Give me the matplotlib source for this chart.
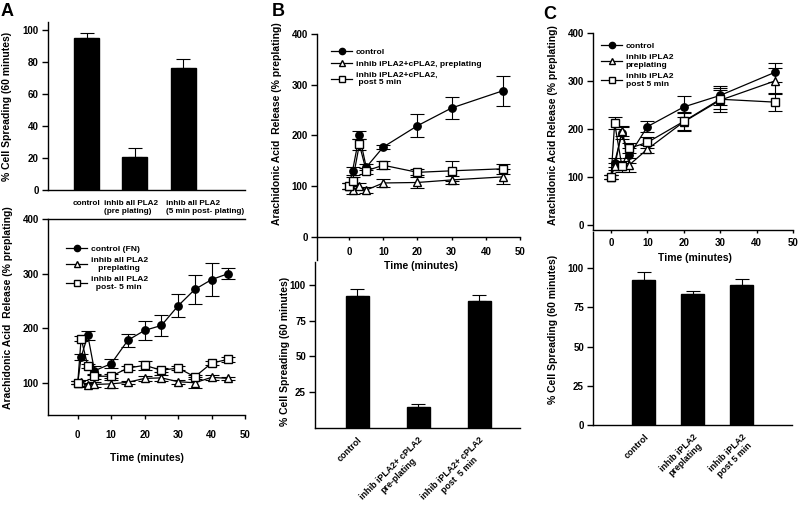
import matplotlib
matplotlib.use("Agg")
import matplotlib.pyplot as plt
import numpy as np

plt.rcParams['font.family'] = ['Liberation Sans', 'DejaVu Sans']
plt.rcParams['font.weight'] = 'bold'
plt.rcParams['axes.linewidth'] = 1.0

# ---------------- data ----------------
# Panel A, bar chart
a_bar_labels = ["control", "inhib all PLA2\n(pre plating)", "inhib all PLA2\n(5 min post- plating)"]
a_bar_vals = [95, 20.5, 76.5]
a_bar_err = [3, 5.5, 5.5]

# Panel A, time course
a_time = [0, 1, 3, 5, 10, 15, 20, 25, 30, 35, 40, 45]
a_ctrl = [100, 147, 187, 122, 135, 178, 196, 205, 241, 271, 289, 300]
a_ctrl_err = [3, 5, 8, 8, 8, 12, 17, 19, 21, 27, 30, 10]
a_pre = [100, 102, 96, 97, 98, 101, 108, 109, 102, 100, 110, 108]
a_pre_err = [3, 3, 4, 4, 8, 3, 4, 6, 4, 10, 4, 3]
a_post = [100, 181, 131, 112, 112, 127, 132, 123, 127, 111, 136, 143]
a_post_err = [3, 4, 4, 5, 4, 4, 8, 4, 3, 4, 3, 5]
a_leg = ["control (FN)", "inhib all PLA2\n   preplating", "inhib all PLA2\n  post- 5 min"]

# Panel B, time course
b_time = [0, 1, 3, 5, 10, 20, 30, 45]
b_ctrl = [100, 130, 200, 137, 177, 219, 254, 288]
b_ctrl_err = [5, 8, 8, 6, 4, 23, 22, 30]
b_pre = [100, 92, 100, 92, 106, 107, 112, 118]
b_pre_err = [5, 8, 5, 6, 8, 10, 8, 15]
b_post = [100, 110, 182, 130, 141, 127, 130, 134]
b_post_err = [5, 8, 10, 6, 8, 6, 20, 10]
b_leg = ["control", "inhib iPLA2+cPLA2, preplating", "inhib iPLA2+cPLA2,\n post 5 min"]

# Panel B, bar chart
b_bar_labels = ["control", "inhib iPLA2+ cPLA2\npre-plating", "inhib iPLA2+ cPLA2\npost  5 min"]
b_bar_vals = [92, 15, 88.5]
b_bar_err = [5, 2, 4.5]

# Panel C, time course
c_time = [0, 1, 3, 5, 10, 20, 30, 45]
c_ctrl = [100, 130, 192, 145, 205, 246, 270, 318]
c_ctrl_err = [5, 10, 12, 15, 12, 22, 20, 20]
c_pre = [100, 122, 196, 125, 158, 215, 260, 300]
c_pre_err = [5, 8, 10, 15, 8, 20, 25, 28]
c_post = [100, 212, 122, 160, 172, 216, 262, 256]
c_post_err = [5, 12, 12, 10, 12, 18, 20, 18]
c_leg = ["control", "inhib iPLA2\npreplating", "inhib iPLA2\npost 5 min"]

# Panel C, bar chart
c_bar_labels = ["control", "inhib iPLA2\npreplating", "inhib iPLA2\npost 5 min"]
c_bar_vals = [92.5, 83.5, 89.5]
c_bar_err = [4.7, 1.8, 3.8]

# ---------------- figure ----------------
W, H = 800, 507
fig = plt.figure(figsize=(W / 100, H / 100), dpi=100)


def rect(left, top, right, bottom):
    return [left / W, 1 - bottom / H, (right - left) / W, (bottom - top) / H]


TICK_FS = 7
LAB_FS = 7.5
LEG_FS = 6.1


def style(ax):
    ax.patch.set_alpha(0)
    ax.spines['right'].set_visible(False)
    ax.spines['top'].set_visible(False)
    ax.tick_params(axis='both', labelsize=TICK_FS, width=1.0, length=4.5, pad=2, colors='black')
    for lab in ax.get_xticklabels() + ax.get_yticklabels():
        lab.set_fontweight('bold')


def series(ax, t, ctrl, ce, pre, pe, post, poe):
    kw = dict(color='black', lw=0.9, capsize=5, elinewidth=0.8, capthick=0.8, ms=5.3)
    h1 = ax.errorbar(t, ctrl, yerr=ce, fmt='-o', mfc='black', mec='black', **kw)
    h2 = ax.errorbar(t, pre, yerr=pe, fmt='-^', mfc='white', mec='black', **kw)
    h3 = ax.errorbar(t, post, yerr=poe, fmt='-s', mfc='white', mec='black', **kw)
    return [h1[0], h2[0], h3[0]]


def legend(ax, handles, labels, anchor):
    leg = ax.legend(handles, labels, loc='upper left', bbox_to_anchor=anchor,
                    bbox_transform=fig.transFigure, frameon=False, fontsize=LEG_FS,
                    handlelength=2.5, handletextpad=0.4, labelspacing=0.45,
                    borderaxespad=0, borderpad=0, markerscale=0.85)
    for t in leg.get_texts():
        t.set_fontweight('bold')
    return leg


def bars(ax, vals, err, width):
    x = np.arange(len(vals))
    ax.bar(x, vals, width=width, color='black', edgecolor='black')
    ax.errorbar(x, vals, yerr=[np.zeros(len(err)), err], fmt='none', ecolor='black',
                elinewidth=0.8, capsize=5, capthick=0.8)
    return x


# ---- Panel A bar ----
axA1 = fig.add_axes(rect(48, 22, 245, 190))
xA = bars(axA1, a_bar_vals, a_bar_err, 0.52)
axA1.set_xlim(-0.81, 3.29)
axA1.set_ylim(0, 105)
axA1.set_yticks([0, 20, 40, 60, 80, 100])
axA1.set_xticks([])
style(axA1)
a_lab_shift = [0.0, -0.08, 0.45]
for i, lab in enumerate(a_bar_labels):
    axA1.text(xA[i] + a_lab_shift[i], -6.5, lab, ha='center', va='top', fontsize=5.9,
              fontweight='bold', multialignment='left', clip_on=False)
fig.text(7.5 / W, 1 - 106 / H, "% Cell Spreading (60 minutes)", rotation=90, ha='center',
         va='center', fontsize=LAB_FS, fontweight='bold')

# ---- Panel A line ----
axA2 = fig.add_axes(rect(48, 219, 245, 415))
hA = series(axA2, a_time, a_ctrl, a_ctrl_err, a_pre, a_pre_err, a_post, a_post_err)
axA2.set_xlim(-8.9, 50)
axA2.set_ylim(41, 400)
axA2.set_yticks([100, 200, 300, 400])
axA2.set_xticks([0, 10, 20, 30, 40, 50])
style(axA2)
axA2.spines['top'].set_visible(True)
axA2.tick_params(axis='x', length=3, pad=8)
legend(axA2, hA, a_leg, (66 / W, 1 - 245 / H))
axA2.set_xlabel("Time (minutes)", fontsize=LAB_FS, fontweight='bold', labelpad=9)
fig.text(8 / W, 1 - 308 / H, "Arachidonic Acid  Release (% preplating)", rotation=90,
         ha='center', va='center', fontsize=LAB_FS, fontweight='bold')

# ---- Panel B line ----
axB1 = fig.add_axes(rect(317, 34, 520, 260))
hB = series(axB1, b_time, b_ctrl, b_ctrl_err, b_pre, b_pre_err, b_post, b_post_err)
axB1.set_xlim(-9.4, 50)
axB1.set_ylim(-46, 400)
axB1.set_yticks([0, 100, 200, 300, 400])
axB1.set_xticks([0, 10, 20, 30, 40, 50])
style(axB1)
axB1.spines['bottom'].set_position(('data', 0))
axB1.tick_params(axis='x', length=2.5, pad=5)
legend(axB1, hB, b_leg, (331 / W, 1 - 48 / H))
fig.text(421 / W, 1 - 266 / H, "Time (minutes)", ha='center', va='center', fontsize=LAB_FS,
         fontweight='bold')
fig.text(277 / W, 1 - 124 / H, "Arachidonic Acid  Release (% preplating)", rotation=90,
         ha='center', va='center', fontsize=LAB_FS, fontweight='bold')

# ---- Panel B bar ----
axB2 = fig.add_axes(rect(315, 262, 520, 428))
bars(axB2, b_bar_vals, b_bar_err, 0.38)
axB2.set_xlim(-0.69, 2.67)
axB2.set_ylim(0, 116)
axB2.set_yticks([25, 50, 75, 100])
axB2.set_xticks(range(len(b_bar_labels)))
axB2.set_xticklabels(b_bar_labels, rotation=45, ha='right', rotation_mode='anchor',
                     fontweight='bold', multialignment='center')
style(axB2)
axB2.tick_params(axis='x', length=0, pad=5, labelsize=6.4)
fig.text(285 / W, 1 - 351 / H, "% Cell Spreading (60 minutes)", rotation=90, ha='center',
         va='center', fontsize=LAB_FS, fontweight='bold')

# ---- Panel C line ----
axC1 = fig.add_axes(rect(593, 33, 793, 230))
hC = series(axC1, c_time, c_ctrl, c_ctrl_err, c_pre, c_pre_err, c_post, c_post_err)
axC1.set_xlim(-4.95, 50)
axC1.set_ylim(-10.4, 400)
axC1.set_yticks([0, 100, 200, 300, 400])
axC1.set_xticks([0, 10, 20, 30, 40, 50])
style(axC1)
axC1.tick_params(axis='x', length=2.5, pad=3)
legend(axC1, hC, c_leg, (601 / W, 1 - 42 / H))
fig.text(695 / W, 1 - 258 / H, "Time (minutes)", ha='center', va='center', fontsize=LAB_FS,
         fontweight='bold')
fig.text(553 / W, 1 - 125 / H, "Arachidonic Acid Release (% preplating)", rotation=90,
         ha='center', va='center', fontsize=LAB_FS, fontweight='bold')

# ---- Panel C bar ----
axC2 = fig.add_axes(rect(593, 232, 792, 425))
bars(axC2, c_bar_vals, c_bar_err, 0.47)
axC2.set_xlim(-1.04, 3.03)
axC2.set_ylim(0, 123)
axC2.set_yticks([0, 25, 50, 75, 100])
axC2.set_xticks(range(len(c_bar_labels)))
axC2.set_xticklabels(c_bar_labels, rotation=45, ha='right', rotation_mode='anchor',
                     fontweight='bold', multialignment='center')
style(axC2)
axC2.tick_params(axis='x', length=0, pad=5, labelsize=6.4)
fig.text(553 / W, 1 - 329 / H, "% Cell Spreading (60 minutes)", rotation=90, ha='center',
         va='center', fontsize=LAB_FS, fontweight='bold')

# ---- panel letters ----
for letter, (px, py) in zip("ABC", [(1, 3), (272, 3), (543, 6)]):
    fig.text(px / W, 1 - py / H, letter, ha='left', va='top', fontsize=13, fontweight='bold')

fig.savefig("out.png", dpi=100)
